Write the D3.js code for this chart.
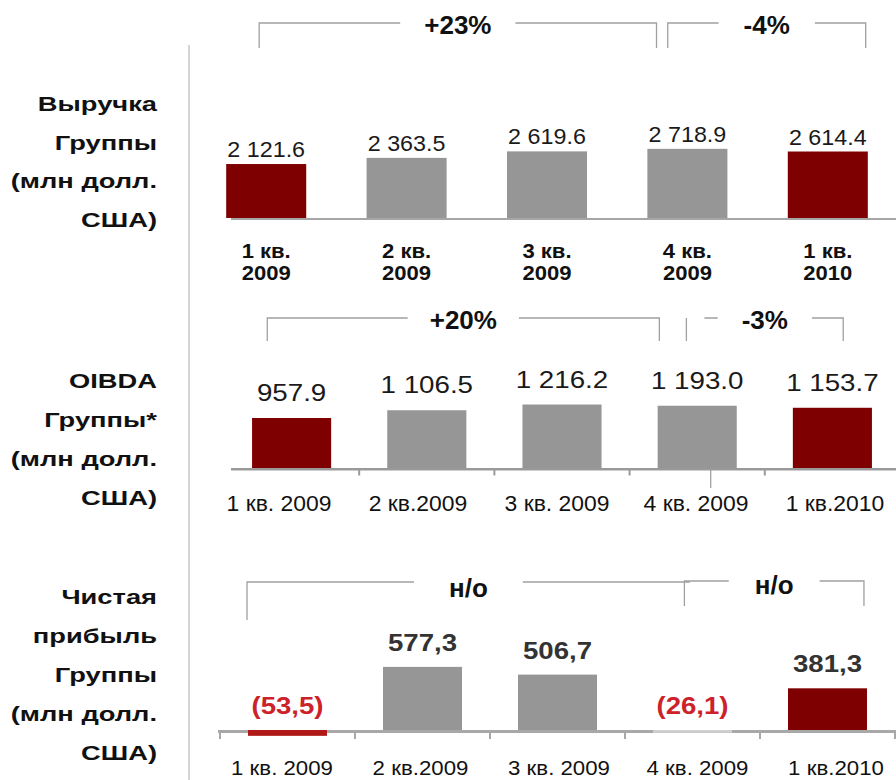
<!DOCTYPE html>
<html>
<head>
<meta charset="utf-8">
<script src="https://cdn.jsdelivr.net/npm/d3@7"></script>
<style>
  body { margin: 0; background: #fff; }
  svg { display: block; font-family: "Liberation Sans", Arial, sans-serif; }
</style>
</head>
<body>
<div id="chart"></div>
<script>
// quarterly results, three stacked panels

const quarters = ["Q1 2009", "Q2 2009", "Q3 2009", "Q4 2009", "Q1 2010"];
const topTickLabels = [["1 кв.", "2009"], ["2 кв.", "2009"], ["3 кв.", "2009"], ["4 кв.", "2009"], ["1 кв.", "2010"]];
const tickLabels = ["1 кв. 2009", "2 кв.2009", "3 кв. 2009", "4 кв. 2009", "1 кв.2010"];

const revenue = [2121.6, 2363.5, 2619.6, 2718.9, 2614.4];
const oibda = [957.9, 1106.5, 1216.2, 1193.0, 1153.7];
const netIncome = [-53.5, 577.3, 506.7, -26.1, 381.3];

const revenueTitle = ["Выручка", "Группы", "(млн долл.", "США)"];
const oibdaTitle = ["OIBDA", "Группы*", "(млн долл.", "США)"];
const netTitle = ["Чистая", "прибыль", "Группы", "(млн долл.", "США)"];

// from / to are positions in category index units
const revenueChanges = [
  { from: -0.05, to: 2.78, label: "+23%", pad: 24 },
  { from: 2.86, to: 4.27, label: "-4%", pad: 25 }
];
const oibdaChanges = [
  { from: -0.18, to: 2.72, label: "+20%", pad: 22 },
  { from: 2.92, to: 4.08, label: "-3%", pad: 24, gapL: 18 }
];
const netChanges = [
  { from: -0.3, to: 2.98, label: "н/о", pad: 35, dropR: 0, dropL: 38 },
  { from: 2.94, to: 4.27, label: "н/о", pad: 26 }
];

const RED = "#7f0000";
const GREY = "#969696";

const width = 896;
const height = 780;

const spaced = d3.formatLocale({ decimal: ".", thousands: " ", grouping: [3], currency: ["", ""] }).format(",.1f");
const comma = d3.formatLocale({ decimal: ",", thousands: " ", grouping: [3], currency: ["", ""] }).format(",.1f");
const fmtNet = v => v < 0 ? `(${comma(-v)})` : comma(v);

const svg = d3.select("#chart").append("svg")
  .attr("width", width)
  .attr("height", height)
  .attr("viewBox", [0, 0, width, height]);

// vertical separator between titles and charts
svg.append("line")
  .attr("x1", 189).attr("x2", 189)
  .attr("y1", 45).attr("y2", height)
  .attr("stroke", "#d4d4d4").attr("stroke-width", 2);

// text with the slightly wide look of the original
function wideText(g, str, x, y, { size = 20, weight = "normal", sx = 1.2, anchor = "middle", fill = "#111" } = {}) {
  return g.append("text")
    .attr("transform", `translate(${x},${y}) scale(${sx},1)`)
    .attr("text-anchor", anchor)
    .attr("font-size", size)
    .attr("font-weight", weight)
    .attr("fill", fill)
    .text(str);
}

function drawTitle(lines, y0, step) {
  const g = svg.append("g");
  lines.forEach((t, i) => wideText(g, t, 157, y0 + i * step, { size: 21, weight: "bold", sx: 1.3, anchor: "end" }));
}

function drawPanel(p) {
  const x = d3.scaleBand().domain(quarters).range(p.xRange).paddingInner(p.padding).paddingOuter(p.padding / 2);
  const xl = d3.scalePoint().domain(quarters).range(p.labelRange || [0, 0]);
  const y = d3.scaleLinear().domain([0, p.yMax]).range([p.base, p.base - p.yPx]);
  const bw = x.bandwidth();
  const idx = i => x(quarters[0]) + bw / 2 + i * x.step();
  const labelX = i => p.labelRange ? xl(quarters[i]) : idx(i);
  const g = svg.append("g");

  // baseline
  g.append("line")
    .attr("x1", p.axisX0).attr("x2", width)
    .attr("y1", p.base + p.axisW / 2).attr("y2", p.base + p.axisW / 2)
    .attr("stroke", p.axisColor).attr("stroke-width", p.axisW);

  if (p.ticks) {
    const bounds = d3.range(quarters.length + 1).map(i => x.range()[0] + i * x.step());
    g.selectAll(".tick")
      .data(bounds.filter(b => b >= p.axisX0 - 6 && b <= width))
      .join("line")
      .attr("x1", d => d).attr("x2", d => d)
      .attr("y1", p.base).attr("y2", p.base + p.axisW + p.ticks)
      .attr("stroke", p.axisColor).attr("stroke-width", 2);
  }

  if (p.leader != null) {
    g.append("line")
      .attr("x1", idx(p.leader)).attr("x2", idx(p.leader))
      .attr("y1", p.base).attr("y2", p.base + 20)
      .attr("stroke", "#999").attr("stroke-width", 1.2);
  }

  // bars
  g.selectAll("rect")
    .data(p.values)
    .join("rect")
    .attr("x", (d, i) => x(quarters[i]))
    .attr("width", bw)
    .attr("y", d => Math.min(y(d), y(0)))
    .attr("height", d => Math.abs(y(d) - y(0)))
    .attr("fill", (d, i) => quarters[i].startsWith("Q1") ? (d < 0 ? "#b01818" : RED) : (d < 0 ? "#cfcfcf" : GREY));

  // value labels
  p.values.forEach((v, i) => {
    const ly = v < 0 ? p.base - p.labelGap : y(v) - p.labelGap;
    wideText(g, p.fmt(v), idx(i), ly, {
      size: p.labelSize, weight: p.labelWeight, sx: p.labelSx,
      fill: v < 0 ? "#cc2229" : p.labelColor
    });
  });

  // category labels
  p.ticksText.forEach((t, i) => {
    const lines = Array.isArray(t) ? t : [t];
    lines.forEach((s, j) => wideText(g, s, labelX(i), p.catY + j * p.catStep, {
      size: p.catSize, weight: p.catWeight, sx: p.catSx
    }));
  });

  // change brackets
  p.changes.forEach((c, k) => {
    const xL = idx(c.from), xR = idx(c.to), xm = (xL + xR) / 2;
    const by = p.bracketY[k];
    const t = wideText(g, c.label, xm, by + p.bracketText[k], { size: 26, weight: "bold", sx: 1.0 });
    const half = t.node().getBBox().width / 2 + c.pad;
    const dL = c.dropL != null ? c.dropL : p.drop;
    const dR = c.dropR != null ? c.dropR : p.drop;
    const path = d3.path();
    path.moveTo(xL, by + dL);
    if (c.gapL) { path.lineTo(xL, by); path.moveTo(xL + c.gapL, by); }
    else path.lineTo(xL, by);
    path.lineTo(xm - half, by);
    path.moveTo(xm + half, by); path.lineTo(xR, by); path.lineTo(xR, by + dR);
    g.append("path")
      .attr("d", path.toString())
      .attr("fill", "none")
      .attr("stroke", "#a0a0a0")
      .attr("stroke-width", 1.3);
  });
}

drawTitle(revenueTitle, 111, 38.5);
drawTitle(oibdaTitle, 388, 39);
drawTitle(netTitle, 604, 39);

drawPanel({
  values: revenue, fmt: spaced, ticksText: topTickLabels, changes: revenueChanges,
  xRange: [196, 898], padding: 0.43, yMax: 3000, yPx: 76.3, base: 218,
  axisX0: 231, axisW: 2, axisColor: "#a6a6a6", ticks: 0,
  labelGap: 7, labelSize: 22, labelWeight: "normal", labelSx: 1.06, labelColor: "#1a1a1a",
  catY: 258, catStep: 22, catSize: 21, catWeight: "bold", catSx: 1.05,
  bracketY: [23, 23], bracketText: [11, 11], drop: 25
});

drawPanel({
  values: oibda, fmt: spaced, ticksText: tickLabels, changes: oibdaChanges,
  xRange: [224, 900], padding: 0.415, yMax: 1500, yPx: 78.3, base: 468,
  labelRange: [279, 835],
  axisX0: 231, axisW: 2.5, axisColor: "#9a9a9a", ticks: 5, leader: 3.1,
  labelGap: 17, labelSize: 23.5, labelWeight: "normal", labelSx: 1.18, labelColor: "#1a1a1a",
  catY: 511, catStep: 0, catSize: 22, catWeight: "normal", catSx: 1.04,
  bracketY: [318, 318], bracketText: [11, 11], drop: 23
});

drawPanel({
  values: netIncome, fmt: fmtNet, ticksText: tickLabels, changes: netChanges,
  xRange: [220, 895], padding: 0.415, yMax: 600, yPx: 65.6, base: 730,
  labelRange: [282, 836],
  axisX0: 218, axisW: 3, axisColor: "#a8a8a8", ticks: 6,
  labelGap: 16, labelSize: 23, labelWeight: "bold", labelSx: 1.2, labelColor: "#333",
  catY: 775, catStep: 0, catSize: 21, catWeight: "normal", catSx: 1.06,
  bracketY: [582, 581], bracketText: [15, 13], drop: 25
});
</script>
</body>
</html>
